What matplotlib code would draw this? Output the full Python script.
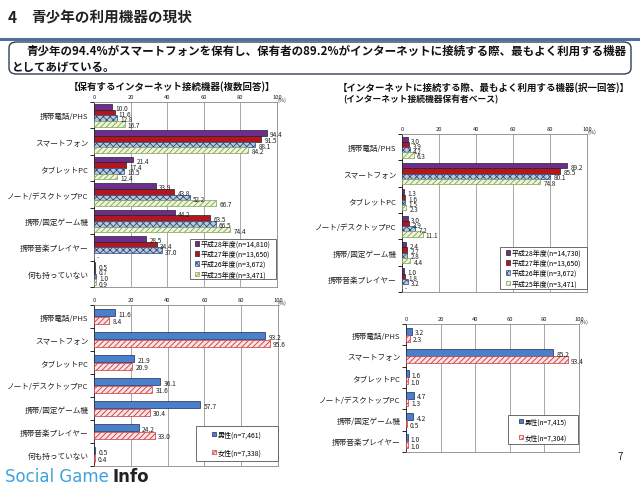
import numpy as np
import matplotlib
matplotlib.use("Agg")
import matplotlib.pyplot as plt
from matplotlib.patches import FancyBboxPatch, Rectangle
from matplotlib.lines import Line2D

plt.rcParams['font.family'] = ['Noto Sans CJK JP', 'DejaVu Sans']
plt.rcParams['hatch.linewidth'] = 0.6

# ---------------- data ----------------
cats_own = ["携帯電話/PHS", "スマートフォン", "タブレットPC", "ノート/デスクトップPC",
            "携帯/固定ゲーム機", "携帯音楽プレイヤー", "何も持っていない"]
cats_use = ["携帯電話/PHS", "スマートフォン", "タブレットPC", "ノート/デスクトップPC",
            "携帯/固定ゲーム機", "携帯音楽プレイヤー"]

own_h28 = [10.0, 94.4, 21.4, 33.9, 44.2, 28.5, 0.5]
own_h27 = [11.6, 91.5, 17.4, 43.8, 63.5, 34.4, 0.7]
own_h26 = [12.8, 88.1, 16.5, 52.2, 66.5, 37.0, 1.0]
own_h25 = [16.7, 84.2, 12.4, 66.7, 74.4, np.nan, 0.9]
own_year_labels = ["平成28年度(n=14,810)", "平成27年度(n=13,650)",
                   "平成26年度(n=3,672)", "平成25年度(n=3,471)"]

use_h28 = [3.0, 89.2, 1.3, 3.0, 2.4, 1.0]
use_h27 = [3.9, 85.5, 1.6, 3.9, 2.7, 1.8]
use_h26 = [4.2, 80.1, 1.5, 7.2, 2.8, 3.2]
use_h25 = [6.3, 74.8, 2.3, 11.1, 4.4, np.nan]
use_year_labels = ["平成28年度(n=14,730)", "平成27年度(n=13,650)",
                   "平成26年度(n=3,672)", "平成25年度(n=3,471)"]

own_male = [11.6, 93.2, 21.9, 36.1, 57.7, 24.2, 0.5]
own_female = [8.4, 95.6, 20.9, 31.6, 30.4, 33.0, 0.4]
own_sex_labels = ["男性(n=7,461)", "女性(n=7,338)"]

use_male = [3.2, 85.2, 1.6, 4.7, 4.2, 1.0]
use_female = [2.3, 93.4, 1.0, 1.3, 0.5, 1.0]
use_sex_labels = ["男性(n=7,415)", "女性(n=7,304)"]

xticks = [0, 20, 40, 60, 80, 100]

# ---------------- styles ----------------
year_styles = [
    dict(facecolor="#6b2d8e", edgecolor="#222222", hatch=None),
    dict(facecolor="#b3161c", edgecolor="#222222", hatch=None),
    dict(facecolor="#b7c9e0", edgecolor="#2f4a78", hatch="xxxxx"),
    dict(facecolor="#eef6dc", edgecolor="#7fa050", hatch="//////"),
]
sex_styles = [
    dict(facecolor="#4a7fcc", edgecolor="#1a2a50", hatch=None),
    dict(facecolor="#fbe4e4", edgecolor="#c8343a", hatch="//////"),
]

W, H = 640, 489
fig = plt.figure(figsize=(6.4, 4.89), dpi=100)
fig.patch.set_facecolor("white")


def px_axes(x0, x1, top, bottom):
    return fig.add_axes([x0 / W, 1 - bottom / H, (x1 - x0) / W, (bottom - top) / H])


def draw_panel(ax, cats, series, styles, labels, bar_h, leg_box, lab_fs, leg_fs, leg_sp):
    n = len(cats)
    k = len(series)
    ys = np.arange(n)
    for i, (vals, st) in enumerate(zip(series, styles)):
        offs = (i - (k - 1) / 2) * bar_h
        v = np.array(vals, dtype=float)
        yy = ys + offs
        ax.barh(yy, np.nan_to_num(v), height=bar_h, facecolor=st["facecolor"],
                edgecolor=st["edgecolor"], hatch=st["hatch"], linewidth=0.5,
                label=labels[i], zorder=3)
        for y, val in zip(yy, v):
            if np.isnan(val):
                ax.text(1.5, y + 0.05, "-", fontsize=lab_fs, va="center", ha="left",
                        color="#222222", zorder=4)
            else:
                ax.text(val + 1.8, y + 0.05, f"{val:.1f}", fontsize=lab_fs,
                        va="center", ha="left", color="#222222", zorder=4)
    ax.set_xlim(0, 100)
    ax.set_ylim(n - 0.5, -0.5)
    ax.set_xticks(xticks)
    ax.xaxis.tick_top()
    ax.tick_params(axis="x", length=0, labelsize=4.2, pad=2, colors="#222222")
    ax.set_yticks(ys)
    ax.set_yticklabels(cats, fontsize=5.5, color="#222222")
    ax.tick_params(axis="y", length=0, pad=4)
    ax.set_yticks(np.arange(n + 1) - 0.5, minor=True)
    ax.tick_params(axis="y", which="minor", length=3, width=0.6, direction="out")
    ax.grid(axis="x", color="#999999", linewidth=0.6, zorder=0)
    for s in ax.spines.values():
        s.set_color("#888888")
        s.set_linewidth(0.6)
    ax.spines["left"].set_color("#222222")
    ax.text(1.0, 1.0, "(%)", transform=ax.transAxes, fontsize=4, ha="left",
            va="bottom", color="#222222")
    handles = [Rectangle((0, 0), 1, 1, facecolor=st["facecolor"], edgecolor=st["edgecolor"],
                         hatch=st["hatch"], linewidth=0.5) for st in styles]
    lx0, lx1, ltop, lbot = leg_box
    leg = ax.legend(handles, labels, loc="center",
                    bbox_to_anchor=(lx0 / W, 1 - lbot / H, (lx1 - lx0) / W, (lbot - ltop) / H),
                    bbox_transform=fig.transFigure,
                    fontsize=leg_fs, handlelength=0.55, handleheight=0.55, handletextpad=0.3,
                    labelspacing=leg_sp, borderpad=0.5, frameon=False)
    leg.set_zorder(5)
    fr = Rectangle((lx0 / W, 1 - lbot / H), (lx1 - lx0) / W, (lbot - ltop) / H,
                   transform=fig.transFigure, facecolor="white", edgecolor="#555555",
                   linewidth=0.6, zorder=4.5)
    ax.add_artist(fr)
    fr.set_clip_on(False)


ax1 = px_axes(94, 277, 103, 288)
draw_panel(ax1, cats_own, [own_h28, own_h27, own_h26, own_h25], year_styles,
           own_year_labels, 0.215, (190, 276, 240, 280), 4.6, 5.0, 0.3)

ax2 = px_axes(402, 587, 135, 293)
draw_panel(ax2, cats_use, [use_h28, use_h27, use_h26, use_h25], year_styles,
           use_year_labels, 0.2, (500, 587, 248, 290), 4.6, 5.0, 0.3)

ax3 = px_axes(94, 278, 306, 467)
draw_panel(ax3, cats_own, [own_male, own_female], sex_styles,
           own_sex_labels, 0.33, (196, 278, 427, 462), 4.8, 5.0, 1.4)

ax4 = px_axes(406, 579, 325, 453)
draw_panel(ax4, cats_use, [use_male, use_female], sex_styles,
           use_sex_labels, 0.33, (508, 578, 416, 445), 4.8, 4.8, 1.1)

# ---------------- header ----------------
def ftxt(x, y, s, **kw):
    return fig.text(x / W, 1 - y / H, s, **kw)

ftxt(8, 18, "4", fontsize=11, fontweight="bold", va="center", ha="left", color="#222222")
ftxt(31, 18, "青少年の利用機器の現状", fontsize=10.5, fontweight="bold", va="center",
     ha="left", color="#222222")
fig.add_artist(Line2D([0, 1], [1 - 40 / H, 1 - 40 / H], transform=fig.transFigure,
                      color="#4d6f9a", linewidth=2.2))
box = FancyBboxPatch((9 / W, 1 - 75 / H), 622 / W, 32 / H,
                     boxstyle="round,pad=0,rounding_size=0.012",
                     transform=fig.transFigure, facecolor="white",
                     edgecolor="#2d3f5c", linewidth=1.0)
fig.add_artist(box)
ftxt(26, 51, "青少年の94.4%がスマートフォンを保有し、保有者の89.2%がインターネットに接続する際、最もよく利用する機器",
     fontsize=8.3, fontweight="bold", va="center", ha="left", color="#111111")
ftxt(12, 67, "としてあげている。", fontsize=8.3, fontweight="bold", va="center",
     ha="left", color="#111111")

ftxt(172, 87, "【保有するインターネット接続機器(複数回答)】", fontsize=6.8, fontweight="bold",
     va="center", ha="center", color="#111111")
ftxt(484, 88, "【インターネットに接続する際、最もよく利用する機器(択一回答)】", fontsize=6.8,
     fontweight="bold", va="center", ha="center", color="#111111")
ftxt(343, 100, "(インターネット接続機器保有者ベース)", fontsize=6.3, fontweight="bold",
     va="center", ha="left", color="#111111")

ftxt(617, 457, "7", fontsize=7, va="center", ha="left", color="#222222")

t1 = ftxt(5, 477, "Social Game", fontsize=12, va="center", ha="left", color="#3ea3dc",
          family="DejaVu Sans")
fig.canvas.draw()
bb = t1.get_window_extent()
ftxt(bb.x1 + 4, 477, "Info", fontsize=12, va="center", ha="left", color="#222222",
     fontweight="bold", family="DejaVu Sans")

fig.savefig("out.png", dpi=100)
